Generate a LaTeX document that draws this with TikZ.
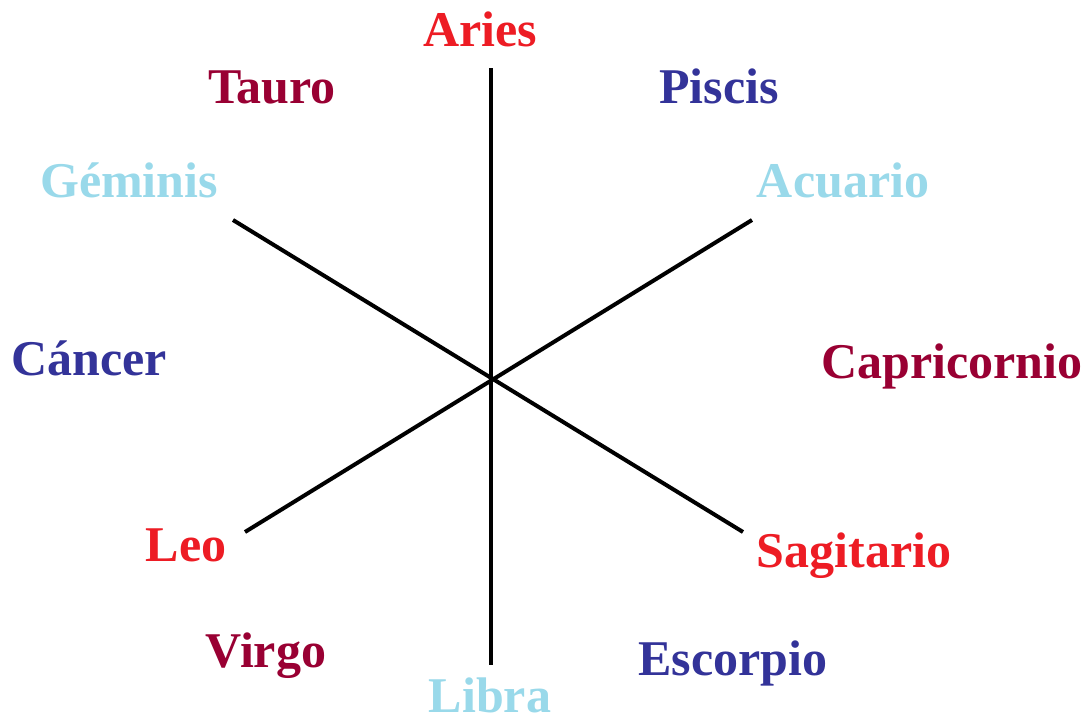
\documentclass[tikz,border=0pt]{standalone}
\usepackage{fontspec}
\setmainfont{Liberation Serif}
\definecolor{zred}{RGB}{237,28,36}
\definecolor{zdark}{RGB}{153,0,51}
\definecolor{znavy}{RGB}{51,51,153}
\definecolor{zlight}{RGB}{153,217,234}
\tikzset{
  sign/.style={anchor=base, inner sep=0pt, font=\fontsize{50}{58}\selectfont\bfseries},
  axis/.style={line width=4pt, black}
}
\begin{document}
\begin{tikzpicture}[x=1pt,y=-1pt]
\useasboundingbox[fill=white] (0,0) rectangle (1085,718);
\coordinate (top) at (491,68);
\coordinate (bot) at (491,665);
\coordinate (ul) at (233,220);
\coordinate (lr) at (743,532);
\coordinate (ll) at (245,532);
\coordinate (ur) at (752,220);
\draw[axis] (top) -- (bot);
\draw[axis] (ul) -- (lr);
\draw[axis] (ll) -- (ur);
\node[sign, text=zred] (aries) at (480,46) {Aries};
\node[sign, text=zdark] (tauro) at (272,103) {Tauro};
\node[sign, text=znavy] (piscis) at (719,103) {Piscis};
\node[sign, text=zlight] (geminis) at (129,197) {Géminis};
\node[sign, text=zlight] (acuario) at (843,197) {Acuario};
\node[sign, text=znavy] (cancer) at (89,375) {Cáncer};
\node[sign, text=zdark] (capricornio) at (952,378) {Capricornio};
\node[sign, text=zred] (leo) at (186,561) {Leo};
\node[sign, text=zred] (sagitario) at (854,567) {Sagitario};
\node[sign, text=zdark] (virgo) at (266,667) {Virgo};
\node[sign, text=znavy] (escorpio) at (733,675) {Escorpio};
\node[sign, text=zlight] (libra) at (490,712) {Libra};
\end{tikzpicture}
\end{document}
